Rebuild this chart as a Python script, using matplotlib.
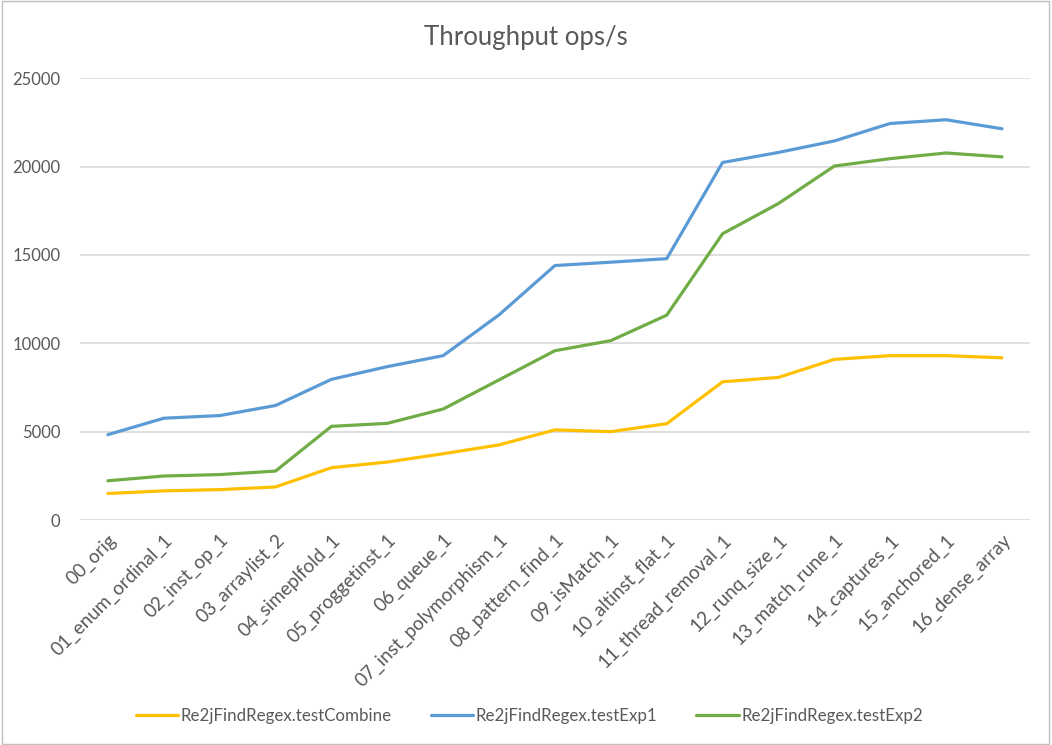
import matplotlib
matplotlib.use('Agg')
import matplotlib.pyplot as plt
from matplotlib.patches import Rectangle

plt.rcParams['font.family'] = ['Lato', 'DejaVu Sans']

LABELS = ['00_orig', '01_enum_ordinal_1', '02_inst_op_1', '03_arraylist_2',
          '04_simeplfold_1', '05_proggetinst_1', '06_queue_1',
          '07_inst_polymorphism_1', '08_pattern_find_1', '09_isMatch_1',
          '10_altinst_flat_1', '11_thread_removal_1', '12_runq_size_1',
          '13_match_rune_1', '14_captures_1', '15_anchored_1', '16_dense_array']

test_combine = [1500, 1650, 1720, 1870, 2960, 3280, 3750, 4250, 5100, 5000,
                5450, 7820, 8070, 9090, 9300, 9300, 9180]
test_exp1 = [4830, 5760, 5910, 6480, 7960, 8680, 9300, 11610, 14400, 14590,
             14790, 20230, 20800, 21450, 22440, 22650, 22140]
test_exp2 = [2220, 2490, 2570, 2770, 5300, 5470, 6280, 7930, 9580, 10150,
             11590, 16200, 17910, 20030, 20450, 20770, 20550]

SERIES = [
    ('Re2jFindRegex.testCombine', test_combine, '#FFC000'),
    ('Re2jFindRegex.testExp1', test_exp1, '#5B9BD5'),
    ('Re2jFindRegex.testExp2', test_exp2, '#70AD47'),
]

fig = plt.figure(figsize=(10.52, 7.45), dpi=100)
ax = fig.add_axes([0.076, 0.302, 0.903, 0.593])

x = list(range(len(LABELS)))
for name, vals, color in SERIES:
    ax.plot(x, vals, color=color, lw=2.3, label=name, solid_capstyle='round')

ax.set_xlim(-0.5, len(LABELS) - 0.5)
ax.set_ylim(0, 25000)
ax.set_yticks(range(0, 25001, 5000))
ax.grid(axis='y', color='#D9D9D9', lw=1.2)
ax.set_axisbelow(True)
for s in ax.spines.values():
    s.set_visible(False)
ax.tick_params(axis='both', length=0, labelsize=12, labelcolor='#595959')
ax.tick_params(axis='y', pad=14)
ax.set_xticks(x)
ax.set_xticklabels(LABELS, rotation=45, ha='right', rotation_mode='anchor')
ax.tick_params(axis='x', pad=8, labelsize=13.6)

fig.text(0.5, 0.949, 'Throughput ops/s', ha='center', va='center',
         fontsize=18.5, color='#595959')

handles, labs = ax.get_legend_handles_labels()
fig.legend(handles, labs, loc='center', bbox_to_anchor=(0.503, 0.039), ncol=3,
           frameon=False, fontsize=12.2, handlelength=2.5, handletextpad=0.15,
           columnspacing=2.3, labelcolor='#595959')

fig.patches.append(Rectangle((0.0015, 0.002), 0.996, 0.996, transform=fig.transFigure,
                             fill=False, edgecolor='#BFBFBF', lw=1))

fig.savefig('out.png', dpi=100)
